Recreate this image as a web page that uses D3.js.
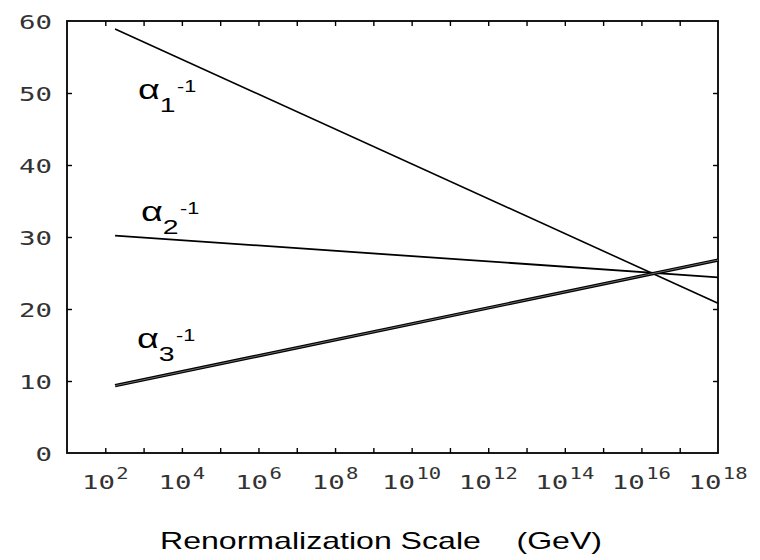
<!DOCTYPE html>
<html>
<head>
<meta charset="utf-8">
<script src="https://cdn.jsdelivr.net/npm/d3@7"></script>
<style>
  html, body { margin: 0; padding: 0; background: #ffffff; }
  svg { display: block; }
</style>
</head>
<body>
<svg id="chart" width="760" height="560"></svg>
<script>
// ---- data ----
const energies = [1.8e2, 1e18];            // renormalization scale (GeV)
const alpha1Inv = [58.9, 20.8];
const alpha2Inv = [30.2, 24.4];
const alpha3Inv = [9.35, 26.8];
const seriesNames = ["1", "2", "3"];
const xTickExponents = [2, 4, 6, 8, 10, 12, 14, 16, 18];
const xMinorExponents = [2,3,4,5,6,7,8,9,10,11,12,13,14,15,16,17];
const yTicks = [0, 10, 20, 30, 40, 50, 60];
const xTitle = "Renormalization Scale    (GeV)";

// ---- layout ----
const svg = d3.select("#chart");
const L = 67, R = 718, T = 21, B = 453;
const x = d3.scaleLog().domain([1e1, 1e18]).range([L, R]);
const y = d3.scaleLinear().domain([0, 60]).range([B, T]);

const tickFont = "DejaVu Sans Mono";
const textColor = "#333";
const stretch = 1.37;   // the reference glyphs are horizontally widened

// frame
svg.append("rect")
  .attr("x", L).attr("y", T).attr("width", R - L).attr("height", B - T)
  .attr("fill", "none").attr("stroke", "#000").attr("stroke-width", 1.8);

// inward ticks using axes
const minorVals = xMinorExponents.map(e => Math.pow(10, e));
const yInner = yTicks.filter(v => v > 0 && v < 60);
const bottomAxis = d3.axisBottom(x).tickValues(minorVals).tickSize(-5).tickFormat("");
const topAxis = d3.axisTop(x).tickValues(minorVals).tickSize(-5).tickFormat("");
const leftAxis = d3.axisLeft(y).tickValues(yInner).tickSize(-5).tickFormat("");
const rightAxis = d3.axisRight(y).tickValues(yInner).tickSize(-5).tickFormat("");

function styleAxis(g) {
  g.select(".domain").remove();
  g.selectAll(".tick line").attr("stroke", "#000").attr("stroke-width", 1.4);
}
svg.append("g").attr("transform", `translate(0,${B})`).call(bottomAxis).call(styleAxis);
svg.append("g").attr("transform", `translate(0,${T})`).call(topAxis).call(styleAxis);
svg.append("g").attr("transform", `translate(${L},0)`).call(leftAxis).call(styleAxis);
svg.append("g").attr("transform", `translate(${R},0)`).call(rightAxis).call(styleAxis);

// y tick labels
svg.append("g").selectAll("text").data(yTicks).join("text")
  .attr("transform", d => `translate(52,${y(d) + 8}) scale(${stretch},1)`)
  .attr("text-anchor", "end")
  .style("font-family", tickFont)
  .style("font-size", "20px")
  .attr("fill", textColor)
  .text(d => String(d));

// x tick labels (10 with superscript exponent)
const xl = svg.append("g").selectAll("text").data(xTickExponents).join("text")
  .attr("transform", d => `translate(${x(Math.pow(10, d))},489) scale(${stretch},1)`)
  .attr("text-anchor", "middle")
  .style("font-family", tickFont)
  .style("font-size", "20px")
  .attr("fill", textColor);
xl.append("tspan").text("10");
xl.append("tspan").attr("dx", 1).attr("dy", -10).style("font-size", "15px").text(d => String(d));

// lines
const line = d3.line().x(d => x(d[0])).y(d => y(d[1]));
const pair = vals => energies.map((e, i) => [e, vals[i]]);

svg.append("path").datum(pair(alpha1Inv)).attr("d", line)
  .attr("fill", "none").attr("stroke", "#000").attr("stroke-width", 1.6);
svg.append("path").datum(pair(alpha2Inv)).attr("d", line)
  .attr("fill", "none").attr("stroke", "#000").attr("stroke-width", 1.8);
// alpha3 drawn as a double line
svg.append("path").datum(pair(alpha3Inv)).attr("d", line)
  .attr("fill", "none").attr("stroke", "#000").attr("stroke-width", 3.4);
svg.append("path").datum(pair(alpha3Inv)).attr("d", line)
  .attr("fill", "none").attr("stroke", "#fff").attr("stroke-width", 0.7).attr("stroke-opacity", 0.6);

// curve labels
const labelPos = [[138, 99], [141, 221], [137, 348]];
const labelFont = "Liberation Sans";
seriesNames.forEach((n, i) => {
  const t = svg.append("text")
    .attr("transform", `translate(${labelPos[i][0]},${labelPos[i][1]}) scale(1.35,1)`)
    .style("font-family", labelFont).attr("fill", "#000");
  t.append("tspan").style("font-size", "28px").text("α");
  t.append("tspan").style("font-size", "21px").attr("dx", 0).attr("dy", 13).text(n);
  t.append("tspan").style("font-size", "16px").attr("dx", 1).attr("dy", -20).text("-1");
});

// x-axis title
svg.append("text")
  .attr("x", 160).attr("y", 549)
  .attr("textLength", 442)
  .attr("lengthAdjust", "spacingAndGlyphs")
  .style("font-family", labelFont)
  .style("font-size", "24px")
  .style("white-space", "pre")
  .attr("fill", "#000")
  .text(xTitle);
</script>
</body>
</html>
